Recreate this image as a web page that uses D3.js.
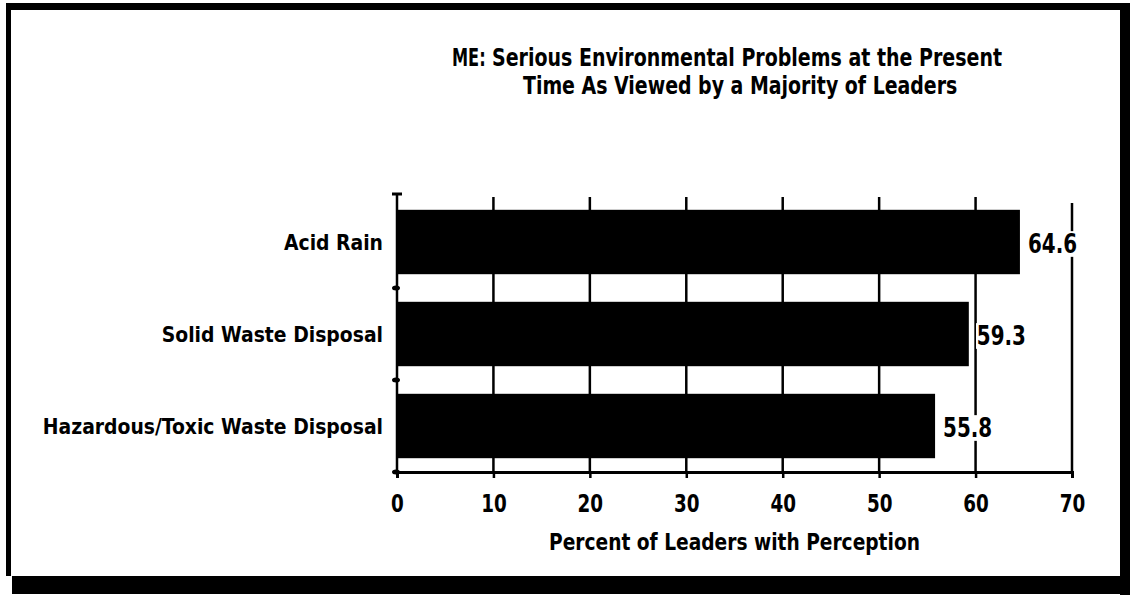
<!DOCTYPE html>
<html>
<head>
<meta charset="utf-8">
<script src="https://cdn.jsdelivr.net/npm/d3@7"></script>
<style>
  body { margin: 0; background: #fff; }
  svg { display: block; }
</style>
</head>
<body>
<svg id="chart" width="1130" height="600"></svg>
<script>

// data
const categories = ["Acid Rain", "Solid Waste Disposal", "Hazardous/Toxic Waste Disposal"];
const values = [64.6, 59.3, 55.8];
const xTicks = [0, 10, 20, 30, 40, 50, 60, 70];
const titleLines = ["Serious Environmental Problems at the Present", "Time As Viewed by a Majority of Leaders"];
const titlePrefix = "ME:";
const xTitle = "Percent of Leaders with Perception";

const FONT = '"DejaVu Sans Condensed", "Liberation Sans Narrow", sans-serif';

const svg = d3.select("#chart");

const x = d3.scaleLinear().domain([0, 70]).range([397, 1072]);
const y = d3.scaleBand().domain(categories).range([196, 472])
    .paddingInner(0.3).paddingOuter(0.15);

const axisY = 472;
const gridTop = 197;

// the scanned lettering is tall and narrow: squeeze text horizontally
const place = (px, py, k) => `translate(${px}, ${py}) scale(${k}, 1)`;

//
// FRAME
//
const frame = svg.append("g").attr("id", "frame").style("fill", "black");
frame.append("rect").attr("x", 6).attr("y", 3).attr("width", 1124).attr("height", 7);
frame.append("rect").attr("x", 6).attr("y", 3).attr("width", 5).attr("height", 573);
frame.append("rect").attr("x", 1120).attr("y", 3).attr("width", 10).attr("height", 592);
frame.append("rect").attr("x", 12).attr("y", 576).attr("width", 1118).attr("height", 18);

//
// TITLE
//
const title = svg.append("g").attr("id", "title")
    .style("font-family", FONT)
    .style("font-weight", "bold")
    .style("font-size", "24px");

title.append("text")
    .attr("transform", place(452, 58, 0.75))
    .attr("dominant-baseline", "central")
    .text(titlePrefix);

title.selectAll("text.line")
    .data(titleLines)
    .enter().append("text")
        .attr("class", "line")
        .attr("transform", (d, i) => place(i === 0 ? 492 : 523, 58 + i * 27, i === 0 ? 0.88 : 0.877))
        .attr("dominant-baseline", "central")
        .text(d => d);

//
// GRID
//
svg.append("g").attr("id", "grid")
    .selectAll("line")
    .data(xTicks.slice(1))
    .enter().append("line")
        .attr("x1", d => x(d)).attr("x2", d => x(d))
        .attr("y1", d => d === 70 ? 203 : gridTop)
        .attr("y2", axisY)
        .style("stroke", "black")
        .style("stroke-width", 2.5);

//
// BARS
//
svg.append("g").attr("id", "bars")
    .selectAll("rect")
    .data(categories)
    .enter().append("rect")
        .attr("x", x(0))
        .attr("y", d => y(d))
        .attr("width", (d, i) => x(values[i]) - x(0))
        .attr("height", y.bandwidth())
        .style("fill", "black");

//
// VALUE LABELS (white box behind, cuts the grid lines)
//
const labels = svg.append("g").attr("id", "valueLabels")
    .selectAll("g")
    .data(categories)
    .enter().append("g")
        .attr("transform", (d, i) => place(x(values[i]) + 8, y(d) + y.bandwidth() / 2 + 2, 0.82));

labels.append("text")
    .style("font-family", FONT)
    .style("font-weight", "bold")
    .style("font-size", "27px")
    .attr("dominant-baseline", "central")
    .text((d, i) => values[i].toFixed(1));

labels.each(function () {
    const g = d3.select(this);
    const bb = g.select("text").node().getBBox();
    g.insert("rect", "text")
        .attr("x", bb.x - 1).attr("y", bb.y + 3)
        .attr("width", bb.width + 2).attr("height", bb.height - 6)
        .style("fill", "white");
});

//
// AXES
//
const xAxis = svg.append("g").attr("id", "xAxis")
    .attr("transform", `translate(0, ${axisY})`)
    .call(d3.axisBottom(x).tickValues(xTicks).tickSize(6).tickFormat(d3.format("d")));

xAxis.select(".domain").style("stroke", "black").style("stroke-width", 3);
xAxis.selectAll(".tick line").style("stroke", "black").style("stroke-width", 2.5);
xAxis.selectAll(".tick text")
    .attr("y", null).attr("dy", null)
    .attr("transform", place(0, 31, 0.85))
    .attr("dominant-baseline", "central")
    .style("font-family", FONT)
    .style("font-weight", "bold")
    .style("font-size", "24px")
    .style("fill", "black");

svg.append("text")
    .attr("transform", place((x(0) + x(70)) / 2, 542, 0.9))
    .attr("text-anchor", "middle")
    .attr("dominant-baseline", "central")
    .style("font-family", FONT)
    .style("font-weight", "bold")
    .style("font-size", "23px")
    .text(xTitle);

// y axis line with small marks between the bands
const yMarks = [194, ...categories.slice(0, -1).map(c => y(c) + y.bandwidth() + (y.step() - y.bandwidth()) / 2), axisY];

const yAxis = svg.append("g").attr("id", "yAxis");
yAxis.append("line")
    .attr("x1", x(0)).attr("x2", x(0))
    .attr("y1", 194).attr("y2", axisY)
    .style("stroke", "black").style("stroke-width", 2.5);
yAxis.append("line")
    .attr("x1", x(0) - 5).attr("x2", x(0) + 5)
    .attr("y1", 194).attr("y2", 194)
    .style("stroke", "black").style("stroke-width", 3);
yAxis.selectAll("ellipse")
    .data(yMarks.slice(1))
    .enter().append("ellipse")
        .attr("cx", x(0) - 1)
        .attr("cy", d => d)
        .attr("rx", 4)
        .attr("ry", 2.5)
        .style("fill", "black");

yAxis.selectAll("text")
    .data(categories)
    .enter().append("text")
        .attr("transform", d => place(383, y(d) + y.bandwidth() / 2, 0.95))
        .attr("text-anchor", "end")
        .attr("dominant-baseline", "central")
        .style("font-family", FONT)
        .style("font-weight", "bold")
        .style("font-size", "22px")
        .text(d => d);

</script>
</body>
</html>
